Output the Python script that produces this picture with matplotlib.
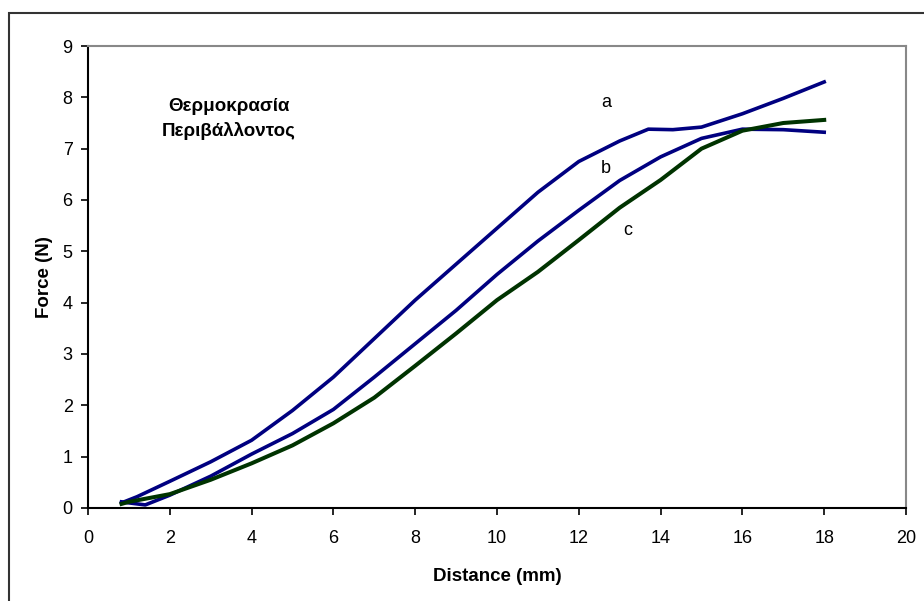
import matplotlib
matplotlib.use("Agg")
import matplotlib.pyplot as plt
from matplotlib.patches import Rectangle

plt.rcParams['font.family'] = ['Liberation Sans', 'DejaVu Sans']

# Curve a
xa = [0.82, 1.2, 2, 3, 4, 5, 6, 7, 8, 9, 10, 11, 12, 13, 13.7, 14.3, 15, 16, 17, 18]
ya = [0.10, 0.22, 0.52, 0.90, 1.32, 1.90, 2.55, 3.30, 4.05, 4.75, 5.45, 6.15, 6.75, 7.15, 7.38, 7.37, 7.42, 7.68, 7.98, 8.30]
# Curve b
xb = [0.82, 1.0, 1.4, 2, 3, 4, 5, 6, 7, 8, 9, 10, 11, 12, 13, 14, 15, 16, 17, 18]
yb = [0.12, 0.10, 0.06, 0.25, 0.62, 1.05, 1.45, 1.92, 2.55, 3.20, 3.85, 4.55, 5.20, 5.80, 6.38, 6.84, 7.20, 7.38, 7.37, 7.32]
# Curve c
xc = [0.82, 1.0, 2, 3, 4, 5, 6, 7, 8, 9, 10, 11, 12, 13, 14, 15, 16, 17, 18]
yc = [0.08, 0.12, 0.27, 0.55, 0.87, 1.22, 1.65, 2.15, 2.77, 3.40, 4.05, 4.60, 5.22, 5.85, 6.39, 7.00, 7.35, 7.50, 7.56]

curve_labels = ['a', 'b', 'c']
label_pos_x = [12.66, 12.66, 13.2]
label_pos_y = [7.89, 6.62, 5.40]
xticks = list(range(0, 21, 2))
yticks = list(range(0, 10))
title_text = "Θερμοκρασία\nΠεριβάλλοντος"

fig = plt.figure(figsize=(9.24, 6.01), dpi=100)
ax = fig.add_axes([88/924, 1 - 508/601, (906-88)/924, (508-46)/601])

navy = '#000080'
green = '#003300'
ax.plot(xa, ya, color=navy, lw=2.6)
ax.plot(xb, yb, color=navy, lw=2.6)
ax.plot(xc, yc, color=green, lw=2.9)

for t, x, y in zip(curve_labels, label_pos_x, label_pos_y):
    ax.text(x, y, t, fontsize=13, ha='center', va='center', color='black')

ax.text(3.45, 7.58, title_text, fontsize=13.5, fontweight='bold', ha='center', va='center',
        linespacing=1.55)

ax.set_xlim(0, 20)
ax.set_ylim(0, 9)
ax.set_xticks(xticks)
ax.set_yticks(yticks)
ax.tick_params(direction='out', length=5, width=1.2, labelsize=13)
ax.tick_params(axis='x', pad=11)
ax.tick_params(axis='y', pad=6)
ax.tick_params(top=False, right=False)
for s in ['left', 'bottom']:
    ax.spines[s].set_color('black')
    ax.spines[s].set_linewidth(1.5)
for s in ['top', 'right']:
    ax.spines[s].set_color('#888888')
    ax.spines[s].set_linewidth(1.5)

ax.set_xlabel('Distance (mm)', fontsize=13.5, fontweight='bold', labelpad=15)
ax.set_ylabel('Force (N)', fontsize=13.5, fontweight='bold', labelpad=7)

# outer frame
fig.patches.append(Rectangle((9/924, -0.1), 1.2, 1 - 13/601 + 0.1, transform=fig.transFigure,
                             fill=False, edgecolor='#333333', lw=1.5))

fig.savefig('out.png', dpi=100)
